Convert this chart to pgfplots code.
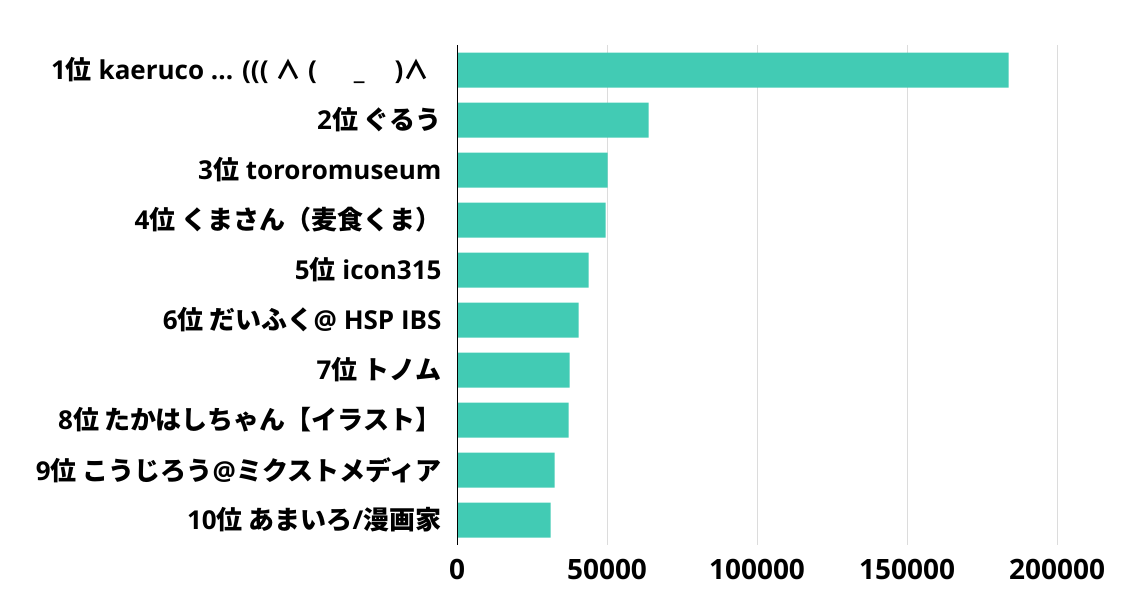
\documentclass[border=0pt]{standalone}
\usepackage{fontspec}
\setmainfont{Open Sans}
\newfontfamily\cjk{Noto Sans CJK JP}
\usepackage{pgfplots}
\usepackage{pgfplotstable}
\pgfplotsset{compat=1.18}
\definecolor{barteal}{HTML}{42CBB4}
\definecolor{gridgray}{HTML}{DCDCDC}
\newcommand\J[1]{{\cjk\bfseries #1}}

\pgfplotstableread{
rank value
1  183900
2  63900
3  50230
4  49570
5  43900
6  40570
7  37570
8  37230
9  32570
10 31230
}\rankdata

\begin{document}
\begin{tikzpicture}
\path[use as bounding box] (0,0) rectangle (1140pt,600pt);
\begin{axis}[
  at={(457pt,55pt)}, anchor=south west,
  width=600pt, height=500pt, scale only axis,
  xbar, bar width=35pt,
  xmin=0, xmax=200000, ymin=0.5, ymax=10.5,
  y dir=reverse,
  ytick={1,2,3,4,5,6,7,8,9,10},
  yticklabels={
    {1\J{位} kaeruco .{}.{}. ((( \J{∧} (\hspace{37pt}\textunderscore\hspace{30pt})\J{∧}\kern12pt},
    {2\J{位 ぐるう}},
    {3\J{位} tororomuseum},
    {4\J{位 くまさん（麦食くま）}},
    {5\J{位} icon315},
    {6\J{位 だいふく}@ HSP IBS},
    {7\J{位 トノム}},
    {8\J{位 たかはしちゃん【イラスト】}},
    {9\J{位 こうじろう}@\J{ミクストメディア}},
    {10\J{位 あまいろ}/\J{漫画家}}
  },
  xtick={0,50000,100000,150000,200000},
  xticklabels={0,50000,100000,150000,200000},
  scaled x ticks=false,
  major tick length=0pt,
  xmajorgrids, ymajorgrids=false,
  major grid style={draw=gridgray, line width=1pt},
  axis x line*=bottom, axis y line*=left,
  x axis line style={draw=none},
  y axis line style={draw=none},
  xticklabel style={font=\fontsize{28}{28}\selectfont\bfseries, yshift=-11pt},
  yticklabel style={font=\fontsize{26}{26}\selectfont\bfseries, anchor=east, xshift=-12pt},
]
\addplot[draw=none, fill=barteal] table[x=value, y=rank] {\rankdata};
\draw[black, line width=1.3pt] (axis cs:0,0.5) -- (axis cs:0,10.5);
\end{axis}
\end{tikzpicture}
\end{document}
